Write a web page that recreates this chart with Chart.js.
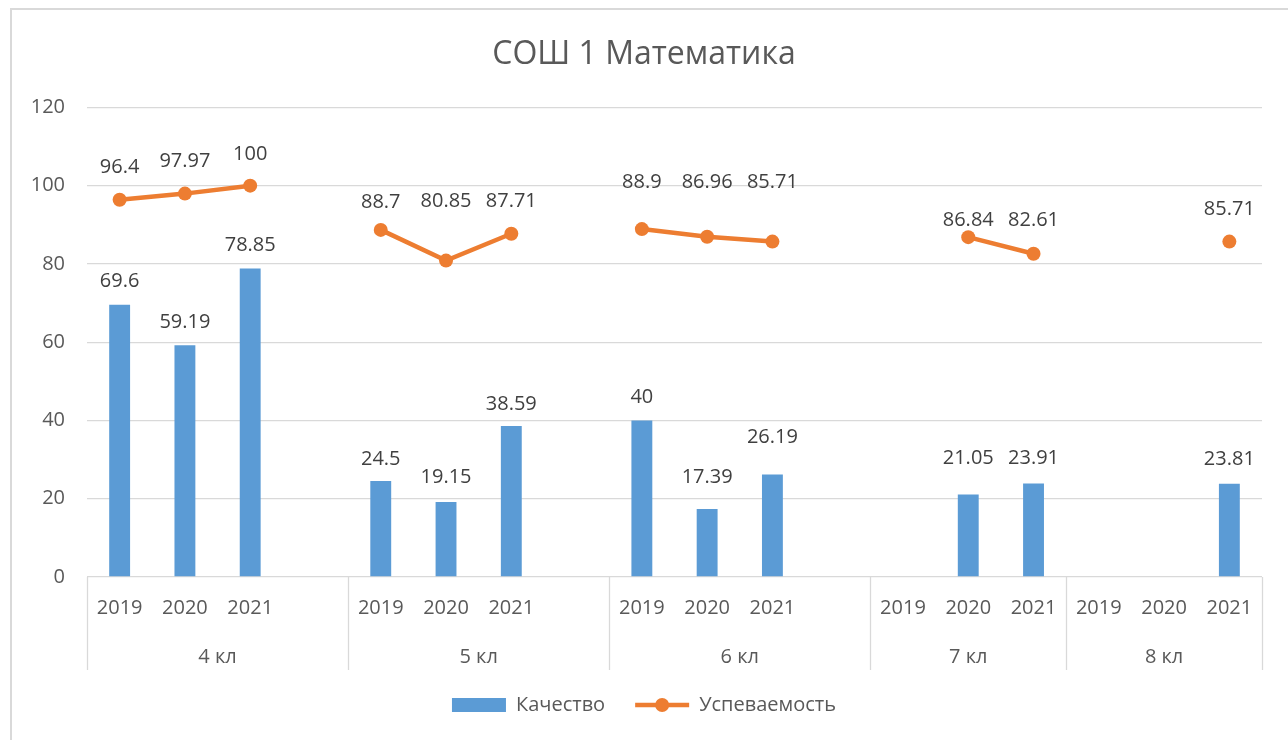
<!DOCTYPE html>
<html>
<head>
<meta charset="utf-8">
<script src="https://cdn.jsdelivr.net/npm/chart.js@4/dist/chart.umd.min.js"></script>
<style>
  html, body { margin: 0; padding: 0; background: #fff; }
  #wrap { width: 1288px; height: 740px; position: relative; }
</style>
</head>
<body>
<div id="wrap"><canvas id="chart"></canvas></div>
<script>
// chart values
const groupNames = ['4 кл', '5 кл', '6 кл', '7 кл', '8 кл'];
const groupSizes = [4, 4, 4, 3, 3];
const yearLabels = ['2019', '2020', '2021', '',
                    '2019', '2020', '2021', '',
                    '2019', '2020', '2021', '',
                    '2019', '2020', '2021',
                    '2019', '2020', '2021'];
const kachestvo = [69.6, 59.19, 78.85, null,
                   24.5, 19.15, 38.59, null,
                   40, 17.39, 26.19, null,
                   null, 21.05, 23.91,
                   null, null, 23.81];
const uspevaemost = [96.4, 97.97, 100, null,
                     88.7, 80.85, 87.71, null,
                     88.9, 86.96, 85.71, null,
                     null, 86.84, 82.61,
                     null, null, 85.71];
const yTicks = [0, 20, 40, 60, 80, 100, 120];

// how far (px) each value label sits above its mark, as placed in the original
const barLabelLift = [23, 23, 23, 0, 22, 25, 22, 0, 23, 32, 37, 0, 0, 36, 25, 0, 0, 25];
const lineLabelLift = [32, 32, 31, 0, 28, 59, 32, 0, 47, 54, 59, 0, 0, 17, 33, 0, 0, 32];

const FONT = 'Open Sans';
const textGrey = '#595959';
const gridGrey = '#d9d9d9';

// white background + frame
const framePlugin = {
    id: 'frame',
    beforeDraw(chart) {
        const c = chart.ctx;
        c.save();
        c.fillStyle = '#fff';
        c.fillRect(0, 0, chart.width, chart.height);
        c.strokeStyle = gridGrey;
        c.lineWidth = 2;
        c.beginPath();
        c.moveTo(11, chart.height);
        c.lineTo(11, 9);
        c.lineTo(chart.width, 9);
        c.stroke();
        c.restore();
    }
};

// second level of the category axis: class groups with separators
const groupAxisPlugin = {
    id: 'groupAxis',
    afterDraw(chart) {
        const x = chart.scales.x;
        const c = chart.ctx;
        const slot = (x.right - x.left) / yearLabels.length;
        const top = x.top;
        c.save();
        c.strokeStyle = gridGrey;
        c.lineWidth = 1.3;
        c.fillStyle = textGrey;
        c.font = '20px "' + FONT + '"';
        c.textAlign = 'center';
        c.textBaseline = 'middle';
        let start = 0;
        groupSizes.forEach((n, g) => {
            const left = x.getPixelForValue(start) - slot / 2;
            const right = x.getPixelForValue(start + n - 1) + slot / 2;
            c.beginPath();
            c.moveTo(Math.round(left) + 0.5, top);
            c.lineTo(Math.round(left) + 0.5, top + 93);
            c.stroke();
            if (g === groupSizes.length - 1) {
                c.beginPath();
                c.moveTo(Math.round(right) + 0.5, top);
                c.lineTo(Math.round(right) + 0.5, top + 93);
                c.stroke();
            }
            c.fillText(groupNames[g], (left + right) / 2, top + 80);
            start += n;
        });
        c.restore();
    }
};

// value labels above bars and points
const valueLabelPlugin = {
    id: 'valueLabels',
    afterDatasetsDraw(chart) {
        const c = chart.ctx;
        c.save();
        c.fillStyle = '#404040';
        c.font = '20px "' + FONT + '"';
        c.textAlign = 'center';
        c.textBaseline = 'middle';
        chart.data.datasets.forEach((ds, di) => {
            const meta = chart.getDatasetMeta(di);
            const lifts = ds.type === 'bar' ? barLabelLift : lineLabelLift;
            meta.data.forEach((el, i) => {
                const v = ds.data[i];
                if (v === null || v === undefined) return;
                c.fillText(String(v), el.x, el.y - lifts[i]);
            });
        });
        c.restore();
    }
};

// dot on the line legend marker
const legendDotPlugin = {
    id: 'legendDot',
    afterDraw(chart) {
        const lg = chart.legend;
        if (!lg || !lg.legendHitBoxes || !lg.legendHitBoxes[1]) return;
        const hb = lg.legendHitBoxes[1];
        const bw = lg.options.labels.pointStyleWidth;
        const c = chart.ctx;
        c.save();
        c.fillStyle = '#ED7D31';
        c.beginPath();
        c.arc(hb.left + bw / 2, hb.top + 10, 7, 0, Math.PI * 2);
        c.fill();
        c.restore();
    }
};

const ctx = document.getElementById('chart').getContext('2d');

new Chart(ctx, {
    data: {
        labels: yearLabels,
        datasets: [
            {
                type: 'bar',
                label: 'Качество',
                data: kachestvo,
                backgroundColor: '#5B9BD5',
                barPercentage: 0.32,
                categoryPercentage: 1,
            },
            {
                type: 'line',
                label: 'Успеваемость',
                data: uspevaemost,
                borderColor: '#ED7D31',
                backgroundColor: '#ED7D31',
                borderWidth: 4.5,
                pointRadius: 7,
                pointBorderWidth: 0,
                pointBackgroundColor: '#ED7D31',
                spanGaps: false,
                tension: 0,
            },
        ],
    },
    options: {
        responsive: true,
        maintainAspectRatio: false,
        animation: false,
        layout: { padding: { left: 26, right: 26, top: 0, bottom: 15 } },
        scales: {
            x: {
                type: 'category',
                offset: true,
                grid: { display: false, drawTicks: false },
                border: { display: false },
                ticks: {
                    color: textGrey,
                    font: { family: FONT, size: 20 },
                    padding: 19,
                    maxRotation: 0,
                    autoSkip: false,
                },
                afterFit: s => { s.height = 88; },
            },
            y: {
                min: 0,
                max: 120,
                afterBuildTicks: s => { s.ticks = yTicks.map(v => ({ value: v })); },
                grid: { color: gridGrey, lineWidth: 1.3, drawTicks: false },
                border: { display: false },
                ticks: {
                    color: textGrey,
                    font: { family: FONT, size: 20 },
                    padding: 22,
                },
                afterFit: s => { s.width = 61; },
            },
        },
        plugins: {
            title: {
                display: true,
                text: 'СОШ 1 Математика',
                color: textGrey,
                font: { family: FONT, size: 32, weight: 'normal' },
                padding: { top: 36, bottom: 33 },
            },
            legend: {
                position: 'bottom',
                labels: {
                    color: textGrey,
                    font: { family: FONT, size: 20 },
                    usePointStyle: true,
                    pointStyleWidth: 54,
                    boxHeight: 14,
                    padding: 30,
                    generateLabels: chart => chart.data.datasets.map((ds, i) => ({
                        text: ds.label,
                        datasetIndex: i,
                        fillStyle: ds.type === 'bar' ? ds.backgroundColor : ds.borderColor,
                        strokeStyle: ds.type === 'bar' ? ds.backgroundColor : ds.borderColor,
                        lineWidth: ds.type === 'bar' ? 0 : 4.5,
                        pointStyle: ds.type === 'bar' ? 'rect' : 'line',
                        fontColor: textGrey,
                        hidden: false,
                    })),
                },
            },
            tooltip: { enabled: false },
        },
    },
    plugins: [framePlugin, groupAxisPlugin, valueLabelPlugin, legendDotPlugin],
});
</script>
</body>
</html>
